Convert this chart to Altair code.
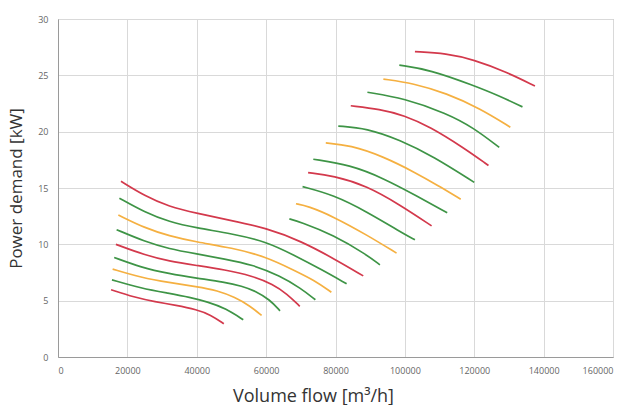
import altair as alt
import pandas as pd

# ---- data (volume flow m3/h, power kW) ----
L1_flow = [15300, 22000, 28000, 34000, 40000, 44000, 47800]
L1_power = [5.97, 5.30, 4.90, 4.60, 4.20, 3.75, 2.95]
L2_flow = [15560, 24000, 32000, 38000, 43000, 48500, 53400]
L2_power = [6.85, 6.10, 5.65, 5.30, 4.90, 4.30, 3.30]
L3_flow = [15750, 24000, 32000, 40000, 46000, 51000, 55300, 58700]
L3_power = [7.80, 7.05, 6.60, 6.25, 5.90, 5.30, 4.55, 3.69]
L4_flow = [16200, 24000, 32000, 40000, 48000, 53000, 57000, 61000, 64000]
L4_power = [8.83, 7.95, 7.40, 7.00, 6.65, 6.30, 5.85, 5.10, 4.10]
L5_flow = [16700, 25000, 32000, 40000, 48000, 56000, 62000, 66000, 69700]
L5_power = [10.00, 9.05, 8.50, 8.12, 7.75, 7.20, 6.45, 5.60, 4.50]
L6_flow = [16900, 25000, 32000, 40000, 48000, 56000, 64000, 70000, 74200]
L6_power = [11.30, 10.25, 9.60, 9.15, 8.70, 8.20, 7.20, 6.10, 5.08]
L7_flow = [17400, 25000, 32000, 40000, 50000, 60000, 68000, 74000, 78800]
L7_power = [12.60, 11.45, 10.75, 10.20, 9.70, 8.90, 7.70, 6.80, 5.75]
L8_flow = [17700, 25000, 32000, 40000, 50000, 60000, 68000, 76000, 83200]
L8_power = [14.10, 12.85, 12.00, 11.45, 10.95, 10.25, 9.05, 7.75, 6.50]
L9_flow = [18150, 25000, 32000, 40000, 50000, 60000, 70000, 80000, 88000]
L9_power = [15.60, 14.30, 13.35, 12.75, 12.10, 11.45, 10.30, 8.65, 7.20]

R1_flow = [66700, 69700, 79400, 89000, 92800]
R1_power = [12.26, 12.00, 10.84, 9.07, 8.18]
R2_flow = [68600, 72000, 79400, 89000, 97600]
R2_power = [13.60, 13.40, 12.46, 10.84, 9.22]
R3_flow = [70500, 79400, 89000, 98600, 102900]
R3_power = [15.12, 14.39, 12.90, 11.13, 10.40]
R4_flow = [72100, 79400, 89000, 98600, 107700]
R4_power = [16.37, 16.08, 15.20, 13.50, 11.64]
R5_flow = [73600, 84200, 93800, 103400, 112200]
R5_power = [17.55, 17.05, 15.87, 14.30, 12.80]
R6_flow = [77200, 84200, 93800, 103400, 109100, 116100]
R6_power = [19.00, 18.80, 17.80, 16.30, 15.30, 14.00]
R7_flow = [80800, 89000, 98600, 108200, 120000]
R7_power = [20.50, 20.30, 19.26, 17.80, 15.50]
R8_flow = [84400, 92800, 99800, 107200, 116800, 124100]
R8_power = [22.30, 22.00, 21.45, 20.44, 18.60, 17.00]
R9_flow = [89200, 99800, 112000, 119800, 127200]
R9_power = [23.50, 22.96, 21.63, 20.35, 18.60]
R10_flow = [93800, 102400, 112000, 121600, 130400]
R10_power = [24.67, 24.30, 23.40, 22.07, 20.40]
R11_flow = [98400, 107200, 119800, 127000, 133900]
R11_power = [25.90, 25.50, 24.10, 23.20, 22.20]
R12_flow = [102900, 112000, 119800, 129300, 137500]
R12_power = [27.10, 26.95, 26.40, 25.30, 24.05]

curve_names = ["L1", "L2", "L3", "L4", "L5", "L6", "L7", "L8", "L9",
               "R1", "R2", "R3", "R4", "R5", "R6", "R7", "R8", "R9", "R10", "R11", "R12"]
curve_flows = [L1_flow, L2_flow, L3_flow, L4_flow, L5_flow, L6_flow, L7_flow, L8_flow, L9_flow,
               R1_flow, R2_flow, R3_flow, R4_flow, R5_flow, R6_flow, R7_flow, R8_flow, R9_flow,
               R10_flow, R11_flow, R12_flow]
curve_powers = [L1_power, L2_power, L3_power, L4_power, L5_power, L6_power, L7_power, L8_power, L9_power,
                R1_power, R2_power, R3_power, R4_power, R5_power, R6_power, R7_power, R8_power, R9_power,
                R10_power, R11_power, R12_power]
color_cycle = ["red", "green", "orange", "green"]

x_ticks = [0, 20000, 40000, 60000, 80000, 100000, 120000, 140000, 160000]
y_ticks = [0, 5, 10, 15, 20, 25, 30]

rows = []
for i, (name, fx, py) in enumerate(zip(curve_names, curve_flows, curve_powers)):
    for j, (a, b) in enumerate(zip(fx, py)):
        rows.append({"curve": name, "flow": a, "power": b,
                     "grp": color_cycle[i % 4], "ord": j})
df = pd.DataFrame(rows)

font = "Open Sans"

chart = alt.Chart(df).mark_line(
    interpolate="basis", strokeWidth=1.7
).encode(
    x=alt.X("flow:Q",
            scale=alt.Scale(domain=[0, 160000], nice=False),
            axis=alt.Axis(values=x_ticks, format="d", title="Volume flow [m\u00b3/h]",
                          titleX=255, titleY=44, titleBaseline="alphabetic",
                          titleFontSize=18, titleFontWeight="normal", titleColor="#333333",
                          titleFont=font, labelFont=font, labelFontSize=9,
                          labelColor="#666666", labelPadding=9, ticks=False,
                          domainColor="#9a9a9a", gridColor="#d9d9d9")),
    y=alt.Y("power:Q",
            scale=alt.Scale(domain=[0, 30], nice=False),
            axis=alt.Axis(values=y_ticks, title="Power demand [kW]",
                          titleX=-33, titleY=169, titleBaseline="bottom", titleAngle=-90,
                          titleFontSize=17, titleFontWeight="normal", titleColor="#333333",
                          titleFont=font, labelFont=font, labelFontSize=9,
                          labelColor="#666666", labelPadding=10, ticks=False,
                          domainColor="#9a9a9a", gridColor="#d9d9d9")),
    color=alt.Color("grp:N",
                    scale=alt.Scale(domain=["red", "green", "orange"],
                                    range=["#d3394c", "#3e9446", "#f5b041"]),
                    legend=None),
    detail="curve:N",
    order="ord:Q",
).properties(
    width=555, height=338,
    autosize=alt.AutoSizeParams(type="none"),
    padding={"left": 58, "top": 19, "right": 29, "bottom": 48},
    background="white",
).configure_view(
    stroke="#a8a8a8", strokeWidth=1
)

chart.save("out.html", embed_options={"renderer": "svg", "actions": False})
